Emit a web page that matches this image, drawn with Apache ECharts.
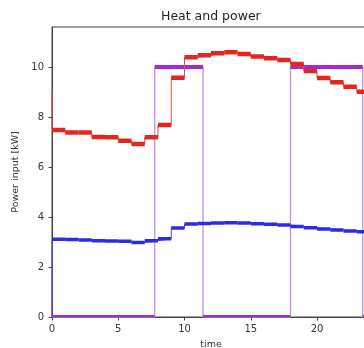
<!DOCTYPE html>
<html>
<head>
<meta charset="utf-8">
<script src="https://cdn.jsdelivr.net/npm/echarts@6/dist/echarts.min.js"></script>
<style>html,body{margin:0;padding:0;background:#fff}#c{width:364px;height:348px}</style>
</head>
<body>
<div id="c"></div>
<script>
// ---- data ----
const hours = [0,1,2,3,4,5,6,7,8,9,10,11,12,13,14,15,16,17,18,19,20,21,22,23];
const heatStart = 9.08;   // red value at t = 0
const heatHourly = [7.48,7.38,7.38,7.20,7.19,7.05,6.92,7.19,7.68,9.57,10.39,10.47,10.55,10.59,10.52,10.42,10.35,10.28,10.12,9.84,9.56,9.39,9.21,9.01];
const powerStart = 0;     // blue value at t = 0
const powerHourly = [3.11,3.10,3.08,3.05,3.04,3.03,2.98,3.05,3.13,3.56,3.72,3.74,3.76,3.77,3.76,3.73,3.71,3.68,3.62,3.57,3.52,3.48,3.44,3.41];
const onTimes  = [0, 7.75, 11.4, 18, 23.45];
const onValues = [0, 10, 0, 10, 0];
const tEnd = 24;
const xTicks = [0,5,10,15,20];
const yTicks = [0,2,4,6,8,10];

// ---- build series data ----
function stepLine(start, hrs, vals){
  const d = [[0, start]];
  hrs.forEach((h,i)=>d.push([h, vals[i]]));
  d.push([tEnd, vals[vals.length-1]]);
  return d;
}
function segs(hrs, vals){
  return hrs.map((h,i)=>[h, i+1<hrs.length ? hrs[i+1] : tEnd, vals[i]]);
}
const redLine = stepLine(heatStart, hours, heatHourly);
const blueLine = stepLine(powerStart, hours, powerHourly);
const purpleLine = onTimes.map((t,i)=>[t,onValues[i]]).concat([[tEnd, onValues[onValues.length-1]]]);

function bandSeries(data, color, h, z){
  return {
    type:'custom', data:data, z:z, silent:true, clip:true,
    renderItem:(params, api)=>{
      const a = api.coord([api.value(0), api.value(2)]);
      const b = api.coord([api.value(1), api.value(2)]);
      return {type:'rect', shape:{x:a[0], y:a[1]-h/2, width:b[0]-a[0], height:h}, style:{fill:color}};
    },
    encode:{x:[0,1], y:2}
  };
}
function thinLine(data, color, w, z){
  return {type:'line', data:data, step:'end', showSymbol:false, symbol:'none', z:z,
    lineStyle:{color:color, width:w}, silent:true, animation:false};
}

const chart = echarts.init(document.getElementById('c'), null, {renderer:'canvas'});
chart.setOption({
  animation:false,
  backgroundColor:'#fff',
  title:{text:'Heat and power', left:156, top:5,
    textStyle:{fontFamily:'DejaVu Sans', fontSize:12.5, fontWeight:'normal', color:'#222'}},
  grid:{left:52, top:27, bottom:31, right:-6, containLabel:false, outerBoundsMode:'none',
    show:true, borderColor:'#444', borderWidth:1, backgroundColor:'transparent'},
  xAxis:{type:'value', min:0, max:tEnd,
    name:'time', nameLocation:'middle', nameGap:23,
    nameTextStyle:{fontFamily:'DejaVu Sans', fontSize:9.5, color:'#333'},
    axisLine:{show:true, lineStyle:{color:'#444'}},
    axisTick:{show:true, length:3.5, lineStyle:{color:'#444'}, customValues:xTicks},
    axisLabel:{fontFamily:'DejaVu Sans', fontSize:10, color:'#333', margin:7, customValues:xTicks},
    splitLine:{show:false}},
  yAxis:{type:'value', min:0, max:11.6,
    name:'Power input [kW]', nameLocation:'middle', nameGap:24, nameRotate:90,
    nameTextStyle:{fontFamily:'DejaVu Sans', fontSize:9.5, color:'#333'},
    axisLine:{show:true, lineStyle:{color:'#444'}},
    axisTick:{show:true, length:3.5, lineStyle:{color:'#444'}, customValues:yTicks},
    axisLabel:{fontFamily:'DejaVu Sans', fontSize:10, color:'#333', margin:8, customValues:yTicks},
    splitLine:{show:false}},
  series:[
    thinLine(purpleLine, '#c88ee6', 1.3, 1),
    bandSeries(segs(onTimes, onValues), '#a52ccc', 4, 2),
    thinLine(blueLine, '#4a4af0', 1, 4),
    bandSeries(segs(hours, powerHourly), '#2b2be6', 3.5, 5),
    thinLine(redLine, '#ea4a40', 1, 6),
    bandSeries(segs(hours, heatHourly), '#e2281e', 4.5, 7)
  ]
});
</script>
</body>
</html>
